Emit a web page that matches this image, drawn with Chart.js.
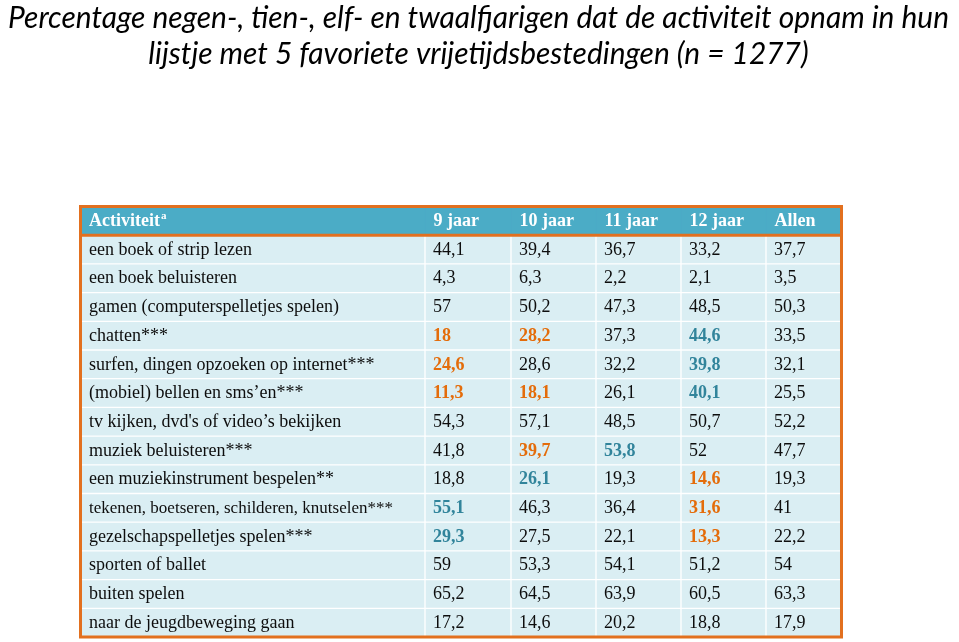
<!DOCTYPE html>
<html><head><meta charset="utf-8">
<script src="https://cdn.jsdelivr.net/npm/chart.js@4/dist/chart.umd.min.js"></script>
<style>html,body{margin:0;padding:0;background:#fff;overflow:hidden}#wrap{width:959px;height:642px;position:relative}</style>
</head><body><div id="wrap"><canvas id="c" width="959" height="642"></canvas></div>
<script>
// ---- data ----
const titleLines = [
  "Percentage negen-, tien-, elf- en twaalfjarigen dat de activiteit opnam in hun",
  "lijstje met 5 favoriete vrijetijdsbestedingen (n = 1277)"
];
const headerLabels = ["Activiteit", "9 jaar", "10 jaar", "11 jaar", "12 jaar", "Allen"];
const headerSup = "a";
const activities = [
  "een boek of strip lezen",
  "een boek beluisteren",
  "gamen (computerspelletjes spelen)",
  "chatten***",
  "surfen, dingen opzoeken op internet***",
  "(mobiel) bellen en sms\u2019en***",
  "tv kijken, dvd's of video\u2019s bekijken",
  "muziek beluisteren***",
  "een muziekinstrument bespelen**",
  "tekenen, boetseren, schilderen, knutselen***",
  "gezelschapspelletjes spelen***",
  "sporten of ballet",
  "buiten spelen",
  "naar de jeugdbeweging gaan"
];
const age9  = [44.1, 4.3, 57,   18,   24.6, 11.3, 54.3, 41.8, 18.8, 55.1, 29.3, 59,   65.2, 17.2];
const age10 = [39.4, 6.3, 50.2, 28.2, 28.6, 18.1, 57.1, 39.7, 26.1, 46.3, 27.5, 53.3, 64.5, 14.6];
const age11 = [36.7, 2.2, 47.3, 37.3, 32.2, 26.1, 48.5, 53.8, 19.3, 36.4, 22.1, 54.1, 63.9, 20.2];
const age12 = [33.2, 2.1, 48.5, 44.6, 39.8, 40.1, 50.7, 52,   14.6, 31.6, 13.3, 51.2, 60.5, 18.8];
const allen = [37.7, 3.5, 50.3, 33.5, 32.1, 25.5, 52.2, 47.7, 19.3, 41,   22.2, 54,   63.3, 17.9];
// highlight marks: 'o' = orange bold, 't' = teal bold, '' = plain
const mark9  = ['', '', '', 'o', 'o', 'o', '', '',  '',  't', 't', '', '', ''];
const mark10 = ['', '', '', 'o', '',  'o', '', 'o', 't', '',  '',  '', '', ''];
const mark11 = ['', '', '', '',  '',  '',  '', 't', '',  '',  '',  '', '', ''];
const mark12 = ['', '', '', 't', 't', 't', '', '',  'o', 'o', 'o', '', '', ''];
const markAll= ['', '', '', '',  '',  '',  '', '',  '',  '',  '',  '', '', ''];

// ---- layout / style ----
const colEdges = [0, 344.5, 430.5, 515.5, 600.5, 685.5, 761];
const C = { head: '#4BACC6', body: '#DAEEF3', border: '#E2701F', orange: '#E46C0A', teal: '#31849B', text: '#0d0d0d' };
const series = [age9, age10, age11, age12, allen];
const marks = [mark9, mark10, mark11, mark12, markAll];
const rowKeys = ['__header__'].concat(activities);
const fmt = v => String(v).replace('.', ',');

const datasets = headerLabels.map((h, j) => ({
  label: h,
  data: rowKeys.map(() => [colEdges[j], colEdges[j + 1]]),
  backgroundColor: rowKeys.map((_, i) => i === 0 ? C.head : C.body),
  borderColor: rowKeys.map((_, i) => i === 0 ? C.head : 'rgba(255,255,255,0.22)'),
  borderWidth: 1,
  borderSkipped: false,
  grouped: false,
  barPercentage: 1,
  categoryPercentage: 1
}));

const tablePlugin = {
  id: 'tableText',
  afterDatasetsDraw(chart) {
    const ctx = chart.ctx, xs = chart.scales.x, ys = chart.scales.y, a = chart.chartArea;
    const left = xs.getPixelForValue(colEdges[0]);
    const right = xs.getPixelForValue(colEdges[colEdges.length - 1]);
    ctx.save();
    ctx.textBaseline = 'middle';
    ctx.textAlign = 'left';
    // header
    const hy = ys.getPixelForValue(0) + 0.5;
    ctx.fillStyle = '#fff';
    headerLabels.forEach((h, j) => {
      ctx.font = 'bold 18px "Liberation Serif"';
      const x = xs.getPixelForValue(colEdges[j]) + 8.5;
      ctx.fillText(h, x, hy);
      if (j === 0) {
        const w = ctx.measureText(h).width;
        ctx.font = 'bold 11px "Liberation Serif"';
        ctx.fillText(headerSup, x + w + 1, hy - 5);
      }
    });
    // body
    activities.forEach((act, r) => {
      const y = ys.getPixelForValue(r + 1) + 0.5;
      ctx.fillStyle = C.text;
      ctx.font = (r === 9 ? '17px' : '18px') + ' "Liberation Serif"';
      ctx.fillText(act, left + 8.5, y);
      series.forEach((s, j) => {
        const m = marks[j][r];
        ctx.font = (m ? 'bold ' : '') + '18px "Liberation Serif"';
        ctx.fillStyle = m === 'o' ? C.orange : (m === 't' ? C.teal : C.text);
        ctx.fillText(fmt(s[r]), xs.getPixelForValue(colEdges[j + 1]) + 8, y);
      });
    });
    // borders
    ctx.strokeStyle = C.border;
    ctx.lineWidth = 3;
    const hb = (ys.getPixelForValue(0) + ys.getPixelForValue(1)) / 2;
    ctx.beginPath();
    ctx.moveTo(left, hb); ctx.lineTo(right, hb);
    ctx.stroke();
    ctx.strokeRect(left, a.top, right - left, a.bottom - a.top);
    ctx.restore();
  }
};

const titlePlugin = {
  id: 'scaledTitle',
  afterDraw(chart) {
    const ctx = chart.ctx;
    ctx.save();
    ctx.font = 'italic 31px Lato';
    ctx.fillStyle = '#000';
    const w1 = ctx.measureText(titleLines[0]).width;
    const sx = 941 / w1;
    ctx.textAlign = 'center';
    ctx.textBaseline = 'alphabetic';
    ctx.translate(478.5, 0);
    ctx.scale(sx, 1);
    ctx.fillText(titleLines[0], 0, 28);
    ctx.fillText(titleLines[1], 0, 64);
    ctx.restore();
  }
};

new Chart(document.getElementById('c'), {
  type: 'bar',
  data: { labels: rowKeys, datasets },
  options: {
    responsive: false,
    animation: false,
    events: [],
    indexAxis: 'y',
    layout: { padding: { top: 206.5, bottom: 5, left: 0, right: 0 } },
    plugins: { legend: { display: false }, title: { display: false }, tooltip: { enabled: false } },
    scales: {
      x: { type: 'linear', min: -80.5, max: 878.5, display: false },
      y: { type: 'category', display: false, offset: true }
    }
  },
  plugins: [tablePlugin, titlePlugin]
});
</script>
</body></html>
